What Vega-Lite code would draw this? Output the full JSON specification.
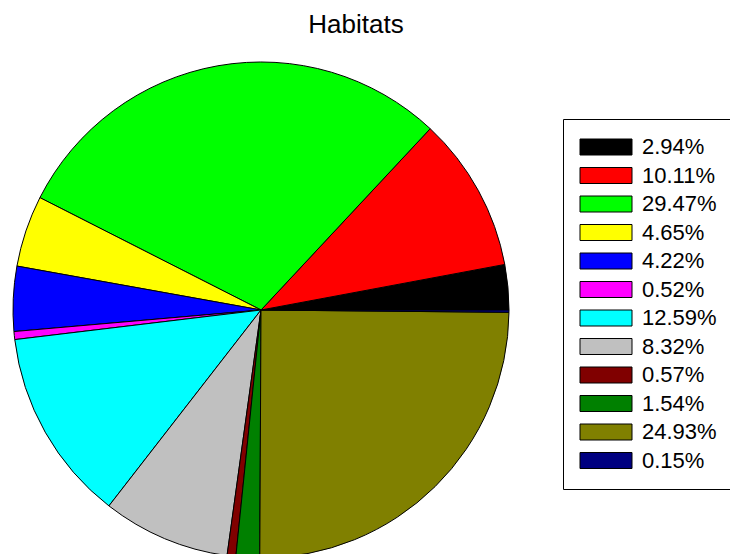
{
  "$schema": "https://vega.github.io/schema/vega-lite/v6.json",
  "autosize": {"type": "none"},
  "padding": {"left": 0, "top": 0, "right": 208, "bottom": 0},
  "width": 522,
  "height": 620,
  "background": "white",
  "title": {
    "text": "Habitats",
    "font": "Liberation Sans",
    "fontSize": 26,
    "fontWeight": "normal",
    "color": "black",
    "anchor": "middle",
    "frame": "group",
    "baseline": "alphabetic",
    "offset": -59,
    "dx": 95
  },
  "data": {
    "values": [
      {"idx": 1, "label": "2.94%", "value": 2.94},
      {"idx": 2, "label": "10.11%", "value": 10.11},
      {"idx": 3, "label": "29.47%", "value": 29.47},
      {"idx": 4, "label": "4.65%", "value": 4.65},
      {"idx": 5, "label": "4.22%", "value": 4.22},
      {"idx": 6, "label": "0.52%", "value": 0.52},
      {"idx": 7, "label": "12.59%", "value": 12.59},
      {"idx": 8, "label": "8.32%", "value": 8.32},
      {"idx": 9, "label": "0.57%", "value": 0.57},
      {"idx": 10, "label": "1.54%", "value": 1.54},
      {"idx": 11, "label": "24.93%", "value": 24.93},
      {"idx": 12, "label": "0.15%", "value": 0.15}
    ]
  },
  "mark": {"type": "arc", "radius": 248, "stroke": "black", "strokeWidth": 1},
  "encoding": {
    "theta": {
      "field": "value",
      "type": "quantitative",
      "stack": true,
      "scale": {"range": [1.5707963, -4.712389]}
    },
    "order": {"field": "idx", "type": "quantitative"},
    "fill": {
      "field": "label",
      "type": "nominal",
      "scale": {
        "domain": ["2.94%", "10.11%", "29.47%", "4.65%", "4.22%", "0.52%", "12.59%", "8.32%", "0.57%", "1.54%", "24.93%", "0.15%"],
        "range": ["#000000", "#FF0000", "#00FF00", "#FFFF00", "#0000FF", "#FF00FF", "#00FFFF", "#C0C0C0", "#800000", "#008000", "#808000", "#000080"]
      },
      "legend": {
        "title": null,
        "orient": "none",
        "legendX": 563,
        "legendY": 119,
        "strokeColor": "black",
        "fillColor": "white",
        "padding": 17,
        "symbolType": "M-1.375,-1H5.125V1H-1.375Z",
        "symbolSize": 256,
        "symbolStrokeColor": "black",
        "symbolStrokeWidth": 1,
        "symbolOpacity": 1,
        "labelFont": "Liberation Sans",
        "labelFontSize": 22,
        "labelColor": "black",
        "labelOffset": 40,
        "rowPadding": 6.5
      }
    }
  },
  "config": {"view": {"stroke": null}}
}
